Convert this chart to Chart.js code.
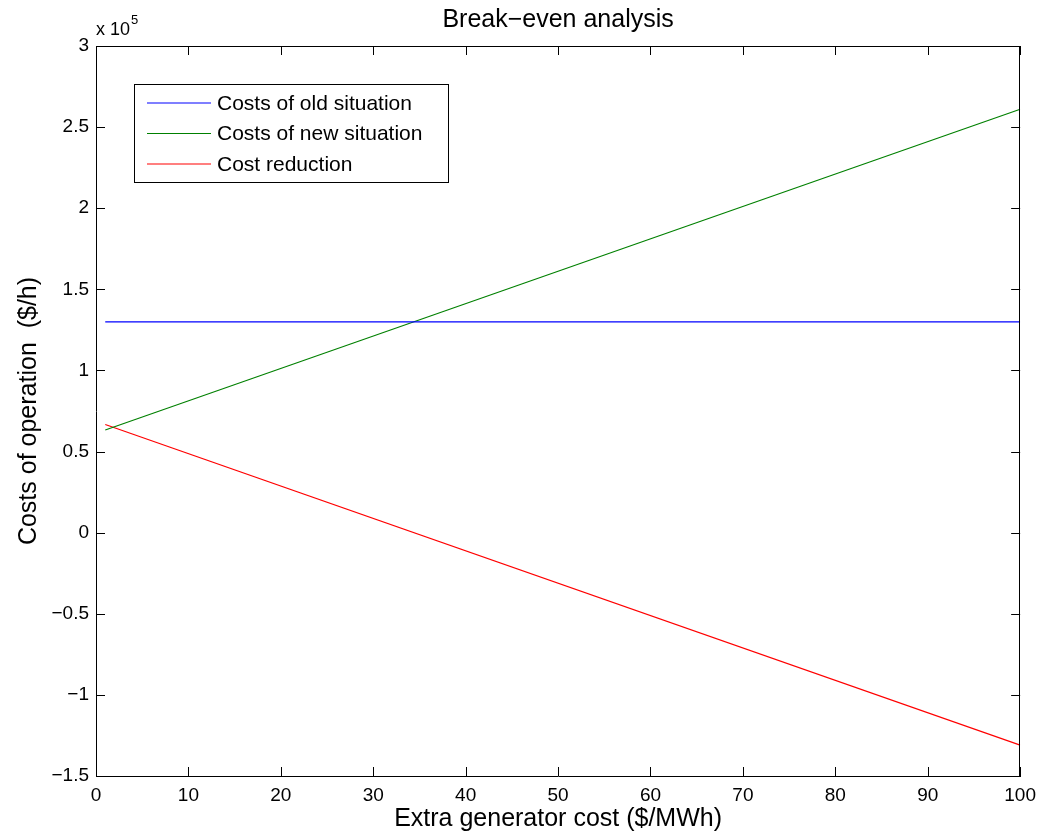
<!DOCTYPE html>
<html>
<head>
<meta charset="utf-8">
<script src="https://cdn.jsdelivr.net/npm/chart.js@4/dist/chart.umd.min.js"></script>
<style>
  html, body { margin: 0; padding: 0; background: #fff; }
  canvas { display: block; }
</style>
</head>
<body>
<canvas id="c" width="1044" height="837"></canvas>
<script>
// ---- data ----
const xValues = [1, 100];                     // extra generator cost ($/MWh)
const oldCosts = [130000, 130000];            // Costs of old situation ($/h)
const newCosts = [63300, 261000];             // Costs of new situation ($/h)
const costReduction = [66700, -131000];       // Cost reduction ($/h)
const seriesLabels = ['Costs of old situation', 'Costs of new situation', 'Cost reduction'];
const seriesColors = ['#0000ff', '#008000', '#ff0000'];
const xTickValues = [0, 10, 20, 30, 40, 50, 60, 70, 80, 90, 100];
const yTickValues = [-150000, -100000, -50000, 0, 50000, 100000, 150000, 200000, 250000, 300000];
const yTickLabels = ['\u22121.5', '\u22121', '\u22120.5', '0', '0.5', '1', '1.5', '2', '2.5', '3'];
const titleText = 'Break\u2212even analysis';
const xTitle = 'Extra generator cost ($/MWh)';
const yTitle = 'Costs of operation  ($/h)';

const FONT = '"Liberation Sans", Arial, Helvetica, sans-serif';

function pts(ys) { return xValues.map((x, i) => ({ x: x, y: ys[i] })); }

const overlay = {
  id: 'overlay',
  afterDraw(chart) {
    const ctx = chart.ctx;
    const a = chart.chartArea;
    const xs = chart.scales.x, ys = chart.scales.y;
    ctx.save();
    ctx.strokeStyle = '#000';
    ctx.lineWidth = 1;
    // box top & right
    ctx.beginPath();
    ctx.moveTo(a.left, Math.round(a.top) + 0.5);
    ctx.lineTo(a.right, Math.round(a.top) + 0.5);
    ctx.moveTo(Math.round(a.right) - 0.5, a.top);
    ctx.lineTo(Math.round(a.right) - 0.5, a.bottom);
    ctx.stroke();
    // inward ticks
    const tl = 9;
    ctx.beginPath();
    xTickValues.forEach(v => {
      const px = Math.round(xs.getPixelForValue(v)) + 0.5;
      ctx.moveTo(px, a.bottom); ctx.lineTo(px, a.bottom - tl);
      ctx.moveTo(px, a.top); ctx.lineTo(px, a.top + tl);
    });
    yTickValues.forEach(v => {
      const py = Math.round(ys.getPixelForValue(v)) + 0.5;
      ctx.moveTo(a.left, py); ctx.lineTo(a.left + tl, py);
      ctx.moveTo(a.right, py); ctx.lineTo(a.right - tl, py);
    });
    ctx.stroke();
    // title
    ctx.fillStyle = '#000';
    ctx.font = '25px ' + FONT;
    ctx.textAlign = 'center';
    ctx.textBaseline = 'alphabetic';
    ctx.fillText(titleText, (a.left + a.right) / 2, 27);
    // exponent
    ctx.textAlign = 'left';
    ctx.font = '18px ' + FONT;
    ctx.fillText('x 10', a.left, 35);
    const w = ctx.measureText('x 10').width;
    ctx.font = '13px ' + FONT;
    ctx.fillText('5', a.left + w + 1, 24);
    // legend
    const lx = 134.5, ly = 84.5, lw = 314, lh = 98;
    ctx.fillStyle = '#fff';
    ctx.fillRect(lx, ly, lw, lh);
    ctx.strokeRect(lx, ly, lw, lh);
    const rows = [103, 133.5, 164];
    ctx.font = '21px ' + FONT;
    ctx.textBaseline = 'middle';
    chart.data.datasets.forEach((ds, i) => {
      ctx.strokeStyle = ds.borderColor;
      ctx.lineWidth = 1.2;
      ctx.beginPath();
      ctx.moveTo(147, rows[i]);
      ctx.lineTo(211, rows[i]);
      ctx.stroke();
      ctx.fillStyle = '#000';
      ctx.fillText(ds.label, 217, rows[i] + 1);
    });
    ctx.restore();
  }
};

new Chart(document.getElementById('c'), {
  type: 'line',
  data: {
    datasets: [
      { label: seriesLabels[0], data: pts(oldCosts), borderColor: seriesColors[0] },
      { label: seriesLabels[1], data: pts(newCosts), borderColor: seriesColors[1] },
      { label: seriesLabels[2], data: pts(costReduction), borderColor: seriesColors[2] }
    ].map(d => Object.assign(d, { borderWidth: 1.2, pointRadius: 0, fill: false, tension: 0 }))
  },
  options: {
    responsive: false,
    animation: false,
    devicePixelRatio: 1,
    layout: { padding: { left: 0, right: 22, top: 46, bottom: 0 } },
    plugins: { legend: { display: false }, title: { display: false }, tooltip: { enabled: false } },
    scales: {
      x: {
        type: 'linear', min: 0, max: 100,
        afterBuildTicks(s) { s.ticks = xTickValues.map(v => ({ value: v })); },
        afterFit(s) { s.height = 61; },
        ticks: { color: '#000', font: { family: FONT, size: 19 }, padding: 8, maxRotation: 0, autoSkip: false,
                 callback: v => String(v) },
        grid: { display: false, drawTicks: false },
        border: { display: true, color: '#000', width: 1 },
        title: { display: true, text: xTitle, color: '#000', font: { family: FONT, size: 25 }, padding: { top: 0, bottom: 3 } }
      },
      y: {
        type: 'linear', min: -150000, max: 300000,
        afterBuildTicks(s) { s.ticks = yTickValues.map(v => ({ value: v })); },
        afterFit(s) { s.width = 96; },
        ticks: { color: '#000', font: { family: FONT, size: 19 }, padding: 7, autoSkip: false,
                 callback: v => yTickLabels[yTickValues.indexOf(v)] },
        grid: { display: false, drawTicks: false },
        border: { display: true, color: '#000', width: 1 },
        title: { display: true, text: yTitle, color: '#000', font: { family: FONT, size: 25 }, padding: { top: 14, bottom: 0 } }
      }
    }
  },
  plugins: [overlay]
});
</script>
</body>
</html>
